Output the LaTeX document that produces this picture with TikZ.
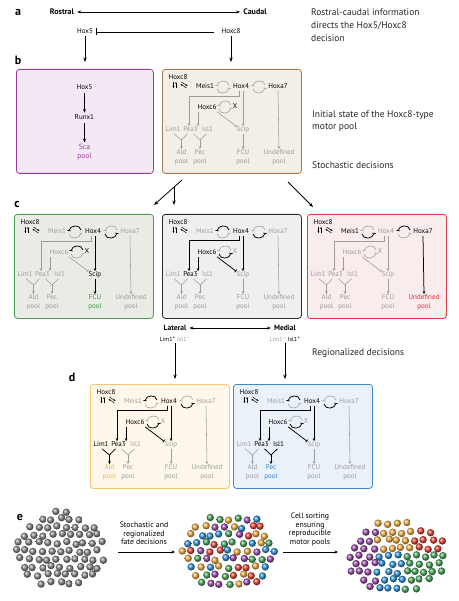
\documentclass[tikz,border=0pt]{standalone}
\usepackage{fontspec}
\setmainfont{PT Sans}
\usepackage{tikz}
\usetikzlibrary{calc}
\usetikzlibrary{arrows.meta}
\usetikzlibrary{positioning}

\definecolor{offc}{HTML}{9C9C9C}
\definecolor{scaLine}{HTML}{9B3D97}
\definecolor{scaFill}{HTML}{F2E9F4}
\definecolor{scaText}{HTML}{A23A9C}
\definecolor{iniLine}{HTML}{A87C56}
\definecolor{iniFill}{HTML}{F3EEE6}
\definecolor{fcuLine}{HTML}{4A9E4F}
\definecolor{fcuFill}{HTML}{E9ECE4}
\definecolor{fcuText}{HTML}{3D9B45}
\definecolor{mixLine}{HTML}{2A2A2A}
\definecolor{mixFill}{HTML}{EFEFEF}
\definecolor{undLine}{HTML}{DA3B45}
\definecolor{undFill}{HTML}{F8ECEC}
\definecolor{undText}{HTML}{E0303A}
\definecolor{aldLine}{HTML}{F0C870}
\definecolor{aldFill}{HTML}{FDF8EB}
\definecolor{aldText}{HTML}{F2B53A}
\definecolor{pecLine}{HTML}{3A89C9}
\definecolor{pecFill}{HTML}{EBF1F8}
\definecolor{pecText}{HTML}{2F85C8}
\definecolor{cellgray}{HTML}{8A8A8A}
\definecolor{cell1}{HTML}{9A4AAC}
\definecolor{cell2}{HTML}{F5AE40}
\definecolor{cell3}{HTML}{E8402F}
\definecolor{cell4}{HTML}{4AA85C}
\definecolor{cell5}{HTML}{2F93DE}

\newcommand{\genefont}{\fontsize{7}{9}\selectfont}
% two repression arcs round a centre
\newcommand{\mutual}[3]{%
  \begin{scope}[shift={(#1)}]
  \draw[rep, #2] (6,-2) .. controls +(-1,-6) and +(1,-6) .. (-6,-1);
  \draw[rep, #3] (-6,2) .. controls +(1,6) and +(-1,6) .. (6,1);
  \end{scope}}

\tikzset{
  gene/.style={font=\genefont, text=offc, inner sep=0.5pt, text height=5pt, text depth=1.2pt},
  pool/.style={font=\genefont, text=offc, inner sep=0.5pt, align=center},
  plain/.style={gene, text=black},
  lit/.style={text=black},
  link/.style={draw=offc, line width=0.55pt},
  act/.style={link, -{Stealth[length=3pt,width=2.6pt]}},
  rep/.style={link, -{Bar[width=3.2pt]}},
  litedge/.style={draw=black, line width=0.75pt},
  twitch/.style={draw=black, line width=0.45pt, -{Stealth[length=1.8pt,width=1.8pt]}},
  arr/.style={line width=0.8pt, -{Stealth[length=4.5pt,width=3.4pt]}},
  arrS/.style={line width=0.7pt, -{Stealth[length=3.6pt,width=3pt]}, shorten <=1.5pt, shorten >=1.5pt},
  dual/.style={line width=0.7pt, {Stealth[length=4pt,width=3pt]}-{Stealth[length=4pt,width=3pt]}, shorten <=2pt, shorten >=2pt},
  panel/.style={draw, rounded corners=3pt, line width=0.8pt, minimum width=139pt, minimum height=104pt, anchor=north west, inner sep=0pt},
  tag/.style={font=\bfseries\fontsize{12}{12}\selectfont, inner sep=0pt},
  pole/.style={font=\bfseries\fontsize{8}{9}\selectfont, inner sep=1pt},
  tally/.style={font=\fontsize{6}{7}\selectfont, inner sep=1pt},
  note/.style={font=\fontsize{9.5}{12.8}\selectfont, align=left, text=black!85, inner sep=0pt, anchor=west},
  story/.style={font=\fontsize{7.8}{8.6}\selectfont, align=center, inner sep=0pt},
  g c8/.style={}, g meis/.style={}, g hox4/.style={}, g a7/.style={},
  g c6/.style={}, g x/.style={}, g lim/.style={}, g pea/.style={},
  g isl/.style={}, g scip/.style={}, g ald/.style={}, g pec/.style={},
  g fcu/.style={}, g und/.style={},
  w meis up/.style={}, w meis low/.style={}, w a7 up/.style={}, w a7 low/.style={},
  w x up/.style={}, w x low/.style={}, w pea/.style={}, w c6pea/.style={},
  w scip/.style={}, w c6scip/.style={}, w ald/.style={}, w pec/.style={},
  w fcu/.style={}, w und/.style={},
  hoxnet/.pic={
    \node[gene, g c8]   (C8)   at (16,9)   {Hoxc8};
    \node[gene, g meis] (Meis) at (43,18)  {Meis1};
    \node[gene, g hox4] (Hox4) at (79,18)  {Hox4};
    \node[gene, g a7]   (A7)   at (116,18) {Hoxa7};
    \node[gene, g c6]   (C6)   at (45,39)  {Hoxc6};
    \node[gene, g x]    (X)    at (73,38)  {X};
    \node[gene, g lim]  (Lim)  at (11,61)  {Lim1};
    \node[gene, g pea]  (Pea)  at (28.5,61) {Pea3};
    \node[gene, g isl]  (Isl)  at (45.5,61) {Isl1};
    \node[gene, g scip] (Scip) at (81,61)  {Scip};
    \node[pool, g ald]  (Ald)  at (19.5,88.5) {Ald\\pool};
    \node[pool, g pec]  (Pec)  at (38,88.5)   {Pec\\pool};
    \node[pool, g fcu]  (Fcu)  at (81,88.5)   {FCU\\pool};
    \node[pool, g und]  (Und)  at (117,88.5)  {Undefined\\pool};
    % Hoxc8 self activity
    \draw[twitch] (11.5,13) -- (11.5,19);
    \draw[twitch] (14,19) -- (14,13);
    \draw[twitch] (19.5,13) -- (25.5,17);
    \draw[twitch] (24.5,19) -- (18.5,15);
    \mutual{61,18}{w meis up}{w meis low}
    \mutual{97,18}{w a7 up}{w a7 low}
    \mutual{63,38}{w x up}{w x low}
    \coordinate (c6o) at ([xshift=-9pt]C6.south);
    \coordinate (aY) at (19.5,71);
    \coordinate (pY) at (38,71);
    \draw[act, w pea] ([xshift=-2pt]Hox4.south) -- ++(0,5) -| ([xshift=-1.5pt]Pea.north);
    \draw[act, w scip] (Hox4.south -| Scip.north) -- (Scip.north);
    \draw[act, w c6pea] (c6o) -- (c6o |- Pea.north);
    \draw[rep, w c6scip] (C6.south east) -- (Scip.north west);
    \draw[act, w und] (A7.south) -- (Und.north);
    \draw[act, w fcu] (Scip.south) -- (Fcu.north);
    \draw[link, w ald] ([xshift=1pt]Lim.south) -- (aY) -- ([xshift=-3pt]Pea.south);
    \draw[act, w ald] (aY) -- (Ald.north);
    \draw[link, w pec] ([xshift=3pt]Pea.south) -- (pY) -- ([xshift=-1pt]Isl.south);
    \draw[act, w pec] (pY) -- (Pec.north);
  }
}

\begin{document}
\begin{tikzpicture}[x=1pt, y=-1pt]
\useasboundingbox (0,0) rectangle (458,601);

% a
\node[tag] (tagA) at (18,12) {a};
\node[pole] (rostral) at (62,12) {Rostral};
\node[pole] (caudal) at (255,12) {Caudal};
\draw[dual] (rostral) -- (caudal);
\node[plain] (hoxA5) at (85,32) {Hox5};
\node[plain] (hoxA8) at (231,32) {Hoxc8};
\draw[line width=0.8pt, -{Bar[width=7pt]}, shorten <=7pt, shorten >=2pt] (hoxA8) -- (hoxA5);
\node[note] (noteA) at (311,25) {Rostral-caudal information\\directs the Hox5/Hoxc8\\decision};

% b
\node[tag] (tagB) at (18,60) {b};
\node[panel, draw=scaLine, fill=scaFill, minimum width=137pt] (scaBox) at (16,69) {};
\node[panel, draw=iniLine, fill=iniFill] (iniBox) at (162,69) {};
\draw[arr, shorten >=7pt] (hoxA5) -- (hoxA5 |- scaBox.north);
\draw[arr, shorten >=7pt] (hoxA8) -- (hoxA8 |- iniBox.north);
\node[plain] (scaHox) at (84.5,88) {Hox5};
\node[plain] (runx) at (84.5,118) {Runx1};
\node[pool, text=scaText, font=\fontsize{7.5}{9}\selectfont] (sca) at (84.5,152.5) {Sca\\pool};
\draw[arrS] (scaHox) -- (runx);
\draw[arrS] (runx) -- (sca);
\begin{scope}[g c8/.style=lit, g meis/.style=lit, g hox4/.style=lit, g a7/.style=lit, g c6/.style=lit, g x/.style=lit]
\pic (ini) at (iniBox.north west) {hoxnet};
\end{scope}
\node[note] (noteB) at (312,121) {Initial state of the Hoxc8-type\\motor pool};

% b -> c
\coordinate (forkTop) at (182,180);
\coordinate (forkMid) at (174,187);
\coordinate (toFcu) at (154,205);
\coordinate (toMix) at (174,205);
\coordinate (undTop) at (288,182);
\coordinate (toUnd) at (313,207);
\draw[arr] (forkTop) -- (toFcu);
\draw[arr] (forkMid) -- (toMix);
\draw[arr] (undTop) -- (toUnd);
\node[note] (noteC) at (312,165) {Stochastic decisions};

% c
\node[tag] (tagC) at (17,205) {c};
\node[panel, draw=fcuLine, fill=fcuFill] (fcuBox) at (14,214) {};
\node[panel, draw=mixLine, fill=mixFill] (mixBox) at (162,214) {};
\node[panel, draw=undLine, fill=undFill] (undBox) at (307,214) {};
\begin{scope}[g c8/.style=lit, g hox4/.style=lit, g x/.style=lit, g scip/.style=lit, g fcu/.style={text=fcuText},
  w meis up/.style=litedge, w a7 low/.style=litedge, w x up/.style=litedge, w scip/.style=litedge, w fcu/.style=litedge]
\pic (fcu) at (fcuBox.north west) {hoxnet};
\end{scope}
\begin{scope}[g c8/.style=lit, g hox4/.style=lit, g c6/.style=lit, g pea/.style=lit,
  w meis up/.style=litedge, w a7 low/.style=litedge, w x low/.style=litedge, w pea/.style=litedge,
  w c6pea/.style=litedge, w scip/.style=litedge, w c6scip/.style=litedge]
\pic (mix) at (mixBox.north west) {hoxnet};
\end{scope}
\begin{scope}[g c8/.style=lit, g meis/.style=lit, g a7/.style=lit, g und/.style={text=undText},
  w meis low/.style=litedge, w a7 up/.style=litedge, w und/.style=litedge]
\pic (und) at (undBox.north west) {hoxnet};
\end{scope}

% c -> d
\node[pole, font=\bfseries\fontsize{7.5}{9}\selectfont] (lateral) at (175,328) {Lateral};
\node[pole, font=\bfseries\fontsize{7.5}{9}\selectfont] (medial) at (285,328) {Medial};
\draw[dual] (lateral) -- (medial);
\node[tally] (latMark) at (175,339) {Lim1\textsuperscript{+} \textcolor{offc}{Isl1\textsuperscript{–}}};
\node[tally] (medMark) at (285,339) {\textcolor{offc}{Lim1\textsuperscript{–}} Isl1\textsuperscript{+}};
\node[note] (noteD) at (312,353) {Regionalized decisions};

% d
\node[tag] (tagD) at (72,377) {d};
\node[panel, draw=aldLine, fill=aldFill] (aldBox) at (90,384) {};
\node[panel, draw=pecLine, fill=pecFill] (pecBox) at (233,384) {};
\draw[arr, shorten >=5pt] (latMark) -- (latMark |- aldBox.north);
\draw[arr, shorten >=5pt] (medMark) -- (medMark |- pecBox.north);
\begin{scope}[g c8/.style=lit, g hox4/.style=lit, g c6/.style=lit, g lim/.style=lit, g pea/.style=lit, g ald/.style={text=aldText},
  w meis up/.style=litedge, w a7 low/.style=litedge, w x low/.style=litedge, w pea/.style=litedge,
  w c6pea/.style=litedge, w scip/.style=litedge, w c6scip/.style=litedge, w ald/.style=litedge]
\pic (ald) at (aldBox.north west) {hoxnet};
\end{scope}
\begin{scope}[g c8/.style=lit, g hox4/.style=lit, g c6/.style=lit, g pea/.style=lit, g isl/.style=lit, g pec/.style={text=pecText},
  w meis up/.style=litedge, w a7 low/.style=litedge, w x low/.style=litedge, w pea/.style=litedge,
  w c6pea/.style=litedge, w scip/.style=litedge, w c6scip/.style=litedge, w pec/.style=litedge]
\pic (pec) at (pecBox.north west) {hoxnet};
\end{scope}

% e
\node[tag] (tagE) at (20,517) {e};
\node[story] (stoch) at (144,533.5) {Stochastic and\\regionalized\\fate decisions};
\node[story] (sorting) at (310,529.5) {Cell sorting\\ensuring\\reproducible\\motor pools};
\coordinate (eL1) at (118,552);
\coordinate (eR1) at (175,552);
\coordinate (eL2) at (283,552);
\coordinate (eR2) at (338,552);
\draw[line width=0.6pt, -{Stealth[length=3.5pt,width=3pt]}] (eL1) -- (eR1);
\draw[line width=0.6pt, -{Stealth[length=3.5pt,width=3pt]}] (eL2) -- (eR2);

\pgfmathsetseed{11}
\foreach \r in {-5,...,5}
  \foreach \c in {-6,...,6}{
    \pgfmathsetmacro{\bx}{\c*9.2+mod(\r+6,2)*4.6+1.6*rand}
    \pgfmathsetmacro{\by}{\r*8+1.6*rand}
    \pgfmathtruncatemacro{\inside}{(\bx/45)*(\bx/45)+(\by/40)*(\by/40)<1}
    \ifnum\inside=1 \shade[ball color=cellgray] ({61+(\bx)},{551+(\by)}) circle[radius=3.7pt]; \fi
  }
\foreach \r in {-5,...,5}
  \foreach \c in {-6,...,6}{
    \pgfmathsetmacro{\bx}{\c*9.2+mod(\r+6,2)*4.6+1.6*rand}
    \pgfmathsetmacro{\by}{\r*8+1.6*rand}
    \pgfmathtruncatemacro{\inside}{(\bx/47)*(\bx/47)+(\by/40)*(\by/40)<1}
    \pgfmathtruncatemacro{\k}{random(1,5)}
    \ifnum\inside=1 \shade[ball color=cell\k] ({229+(\bx)},{551+(\by)}) circle[radius=3.7pt]; \fi
  }
\foreach \r in {-5,...,5}
  \foreach \c in {-6,...,6}{
    \pgfmathsetmacro{\bx}{\c*9.2+mod(\r+6,2)*4.6+1.6*rand}
    \pgfmathsetmacro{\by}{\r*8+1.6*rand}
    \pgfmathtruncatemacro{\inside}{(\bx/51)*(\bx/51)+(\by/36)*(\by/36)<1}
    \pgfmathtruncatemacro{\k}{\bx<-20 ? 1 : (\by<-2 ? (\bx<14 ? 2 : 3) : (\bx<8 ? 5 : 4))}
    \ifnum\inside=1 \shade[ball color=cell\k] ({397+(\bx)},{556+(\by)}) circle[radius=3.7pt]; \fi
  }
\end{tikzpicture}
\end{document}
